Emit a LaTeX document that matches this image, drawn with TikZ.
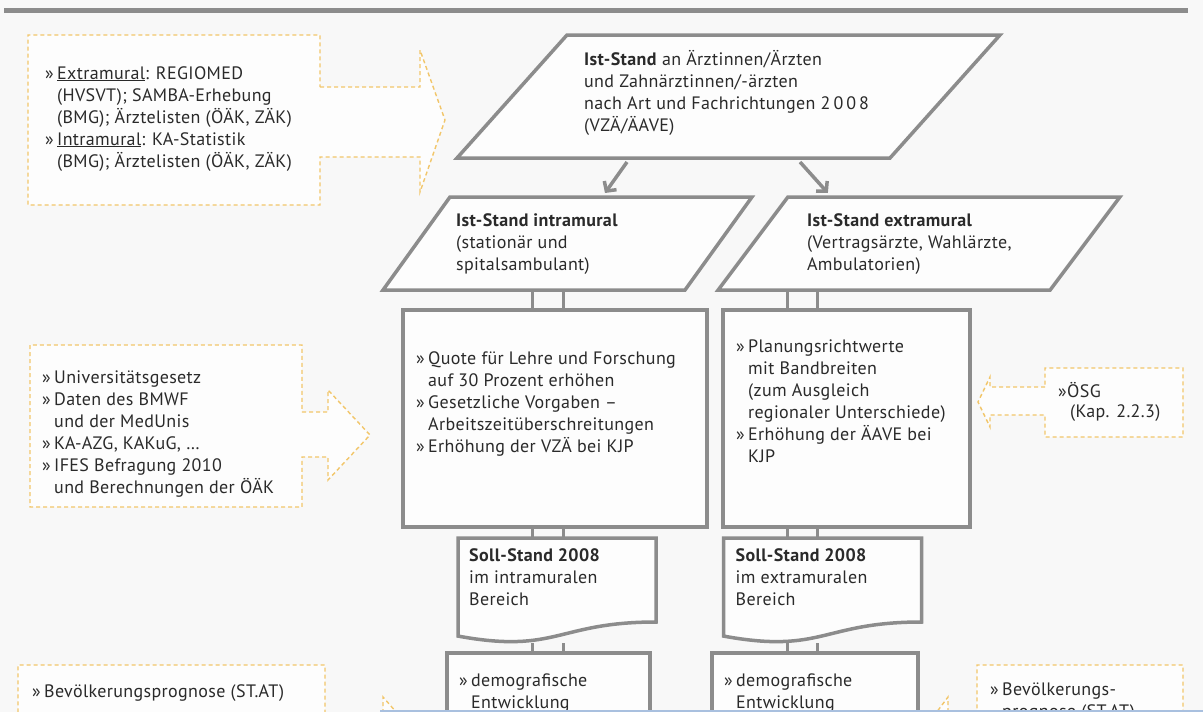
\documentclass[tikz,border=0pt]{standalone}
\usepackage{fontspec}
\setmainfont[LetterSpace=2]{PT Sans}
\usetikzlibrary{arrows.meta,calc,positioning}

\definecolor{boxgray}{HTML}{8C8C8C}
\definecolor{boxfill}{HTML}{FDFDFD}
\definecolor{bgcol}{HTML}{F8F8F8}
\definecolor{dashy}{HTML}{F2C66A}
\definecolor{txtcol}{HTML}{2A2A2A}
\definecolor{bluelin}{HTML}{A9C0DF}

\newcommand{\bul}{\makebox[12pt][l]{»}}
\newcommand{\ein}{\hspace*{12pt}}

\begin{document}
\begin{tikzpicture}[
      x=1pt, y=1pt,
      para/.style={
        draw=boxgray,
        line width=3.5pt,
        fill=boxfill,
        inner sep=0pt,
        outer sep=0pt,
        transform shape
      },
      graybox/.style={
        rectangle,
        draw=boxgray,
        line width=4.5pt,
        fill=boxfill,
        inner sep=0pt,
        outer sep=0pt
      },
      docbox/.style={
        rectangle,
        inner sep=0pt,
        outer sep=0pt,
        minimum width=198pt,
        minimum height=105pt
      },
      docline/.style={draw=boxgray, line width=3.5pt, fill=boxfill},
      srcline/.style={draw=dashy, line width=1.4pt, dash pattern=on 4pt off 3pt, fill=boxfill},
      link/.style={draw=boxgray, line width=3pt},
      pfeil/.style={draw=boxgray, line width=3.5pt, -{Straight Barb[length=7pt,width=15pt]}},
      txt/.style={
        anchor=north west,
        align=left,
        inner sep=0pt,
        text=txtcol,
        font=\fontsize{18}{22}\selectfont
      }
    ]

    \useasboundingbox (0,0) rectangle (1203,-712);
    \clip (0,0) rectangle (1203,-712);
    \fill[bgcol] (0,0) rectangle (1203,-712);

    % Top rule
    \draw[line width=5pt, boxgray] (4,-10) -- (1188,-10);

    % Source callouts
    \draw[srcline] (320,-87) -- (420,-87) -- (420,-50) -- (445,-120) -- (420,-192) -- (420,-157)
      -- (320,-157) -- (320,-205) -- (28,-205) -- (28,-35) -- (320,-35) -- cycle;
    \draw[srcline] (302,-412) -- (328,-412) -- (328,-390) -- (370,-435) -- (328,-480) -- (328,-457)
      -- (302,-457) -- (302,-507) -- (30,-507) -- (30,-345) -- (302,-345) -- cycle;
    \draw[srcline] (1045,-387) -- (990,-387) -- (990,-377) -- (978,-402) -- (990,-427) -- (990,-415)
      -- (1045,-415) -- (1045,-437) -- (1183,-437) -- (1183,-368) -- (1045,-368) -- cycle;
    \draw[srcline] (325,-725) -- (383,-725) -- (383,-697) -- (425,-745) -- (383,-790) -- (383,-770)
      -- (325,-770) -- (325,-800) -- (18,-800) -- (18,-665) -- (325,-665) -- cycle;
    \draw[srcline] (977,-725) -- (948,-725) -- (948,-697) -- (912,-745) -- (948,-790) -- (948,-770)
      -- (977,-770) -- (977,-800) -- (1183,-800) -- (1183,-665) -- (977,-665) -- cycle;

    % Ist-Stand
    \node[para, xslant=0.894, minimum width=433pt, minimum height=123pt] (IstGes) at (728.5,-96.5) {};
    \node[para, xslant=0.72, minimum width=302pt, minimum height=93pt] (IstIntra) at (567.5,-243.5) {};
    \node[para, xslant=0.75, minimum width=332pt, minimum height=93pt] (IstExtra) at (919,-243.5) {};

    % Planning boxes
    \node[graybox, minimum width=304pt, minimum height=217pt] (QuoteBox) at (555,-418.5) {};
    \node[graybox, minimum width=247pt, minimum height=217pt] (PlanBox) at (846.5,-418.5) {};

    % Soll-Stand
    \node[docbox] (SollIntra) at (557,-590.5) {};
    \node[docbox] (SollExtra) at (822.5,-590.5) {};

    % Demography boxes
    \node[graybox, minimum width=203pt, minimum height=150pt] (DemoIntra) at (548.5,-728) {};
    \node[graybox, minimum width=206pt, minimum height=150pt] (DemoExtra) at (815,-728) {};

    % Arrows
    \draw[pfeil] ([xshift=-46.5pt,yshift=-4pt]IstGes.south) -- ([xshift=4pt,yshift=4pt]IstIntra.north);
    \draw[pfeil] ([xshift=126.5pt,yshift=-4pt]IstGes.south) -- ([xshift=-126pt,yshift=4pt]IstExtra.north);

    % Links
    \coordinate (cA) at (532,0);
    \coordinate (cB) at (563,0);
    \coordinate (cC) at (787,0);
    \coordinate (cD) at (817,0);
    \foreach \c in {cA,cB} {
      \draw[link] (IstIntra.south -| \c) -- (QuoteBox.north -| \c);
      \draw[link] (QuoteBox.south -| \c) -- (SollIntra.north -| \c);
      \draw[link] (SollIntra.south -| \c) -- (DemoIntra.north -| \c);
    }
    \foreach \c in {cC,cD} {
      \draw[link] (IstExtra.south -| \c) -- (PlanBox.north -| \c);
      \draw[link] (PlanBox.south -| \c) -- (SollExtra.north -| \c);
      \draw[link] (SollExtra.south -| \c) -- (DemoExtra.north -| \c);
    }

    % Document outlines
    \foreach \d in {SollIntra,SollExtra} {
      \draw[docline] (\d.north west) -- (\d.north east)
        -- ($(\d.north east)!0.8!(\d.south east)$)
        .. controls ($(\d.north)!0.8!(\d.south)$) and ($(\d.north)!1.107!(\d.south)$)
        .. ($(\d.north west)!0.934!(\d.south west)$) -- cycle;
    }

    % Texts
    \node[txt] (tSrcA) at (45,-66) {\bul\underline{Extramural}: REGIOMED\\
      \ein(HVSVT); SAMBA-Erhebung\\
      \ein(BMG); Ärztelisten (ÖÄK, ZÄK)\\
      \bul\underline{Intramural}: KA-Statistik\\
      \ein(BMG); Ärztelisten (ÖÄK, ZÄK)};
    \node[txt] (tSrcB) at (42,-371) {\bul Universitätsgesetz\\
      \bul Daten des BMWF\\
      \ein und der MedUnis\\
      \bul KA-AZG, KAKuG, \dots\\
      \bul IFES Befragung 2010\\
      \ein und Berechnungen der ÖÄK};
    \node[txt] (tOesg) at (1058,-382) {»ÖSG\\[-2pt]\ein(Kap. 2.2.3)};
    \node[txt] (tBevL) at (32,-684) {\bul Bevölkerungsprognose (ST.AT)};
    \node[txt] (tBevR) at (990,-683) {\bul Bevölkerungs-\\\ein prognose (ST.AT)};

    \node[txt, xshift=17pt, yshift=-15pt] (tGes) at (IstGes.north west) {\textbf{Ist-Stand} an Ärztinnen/Ärzten\\
      und Zahnärztinnen/-ärzten\\
      nach Art und Fachrichtungen 2\,0\,0\,8\\
      (VZÄ/ÄAVE)};
    \node[txt, xshift=6pt, yshift=-16pt] (tIntra) at (IstIntra.north west) {\textbf{Ist-Stand intramural}\\
      (stationär und\\spitalsambulant)};
    \node[txt, xshift=19pt, yshift=-16pt] (tExtra) at (IstExtra.north west) {\textbf{Ist-Stand extramural}\\
      (Vertragsärzte, Wahlärzte,\\Ambulatorien)};

    \node[txt, xshift=13pt, yshift=-41pt] (tQuote) at (QuoteBox.north west) {\bul Quote für Lehre und Forschung\\
      \ein auf 30 Prozent erhöhen\\
      \bul Gesetzliche Vorgaben –\\
      \ein Arbeitszeitüberschreitungen\\
      \bul Erhöhung der VZÄ bei KJP};
    \node[txt, xshift=13pt, yshift=-30pt] (tPlan) at (PlanBox.north west) {\bul Planungsrichtwerte\\
      \ein mit Bandbreiten\\
      \ein (zum Ausgleich\\
      \ein regionaler Unterschiede)\\
      \bul Erhöhung der ÄAVE bei\\
      \ein KJP};

    \node[txt, xshift=11pt, yshift=-10pt] (tSollI) at (SollIntra.north west) {\textbf{Soll-Stand 2008}\\im intramuralen\\Bereich};
    \node[txt, xshift=12pt, yshift=-10pt] (tSollE) at (SollExtra.north west) {\textbf{Soll-Stand 2008}\\im extramuralen\\Bereich};

    \node[txt, xshift=12pt, yshift=-21pt] (tDemoI) at (DemoIntra.north west) {\bul demografische\\\ein Entwicklung};
    \node[txt, xshift=12pt, yshift=-21pt] (tDemoE) at (DemoExtra.north west) {\bul demografische\\\ein Entwicklung};

    % Bottom edge
    \draw[line width=2pt, bluelin] (380,-711) -- (1203,-711);
    \end{tikzpicture}
\end{document}
